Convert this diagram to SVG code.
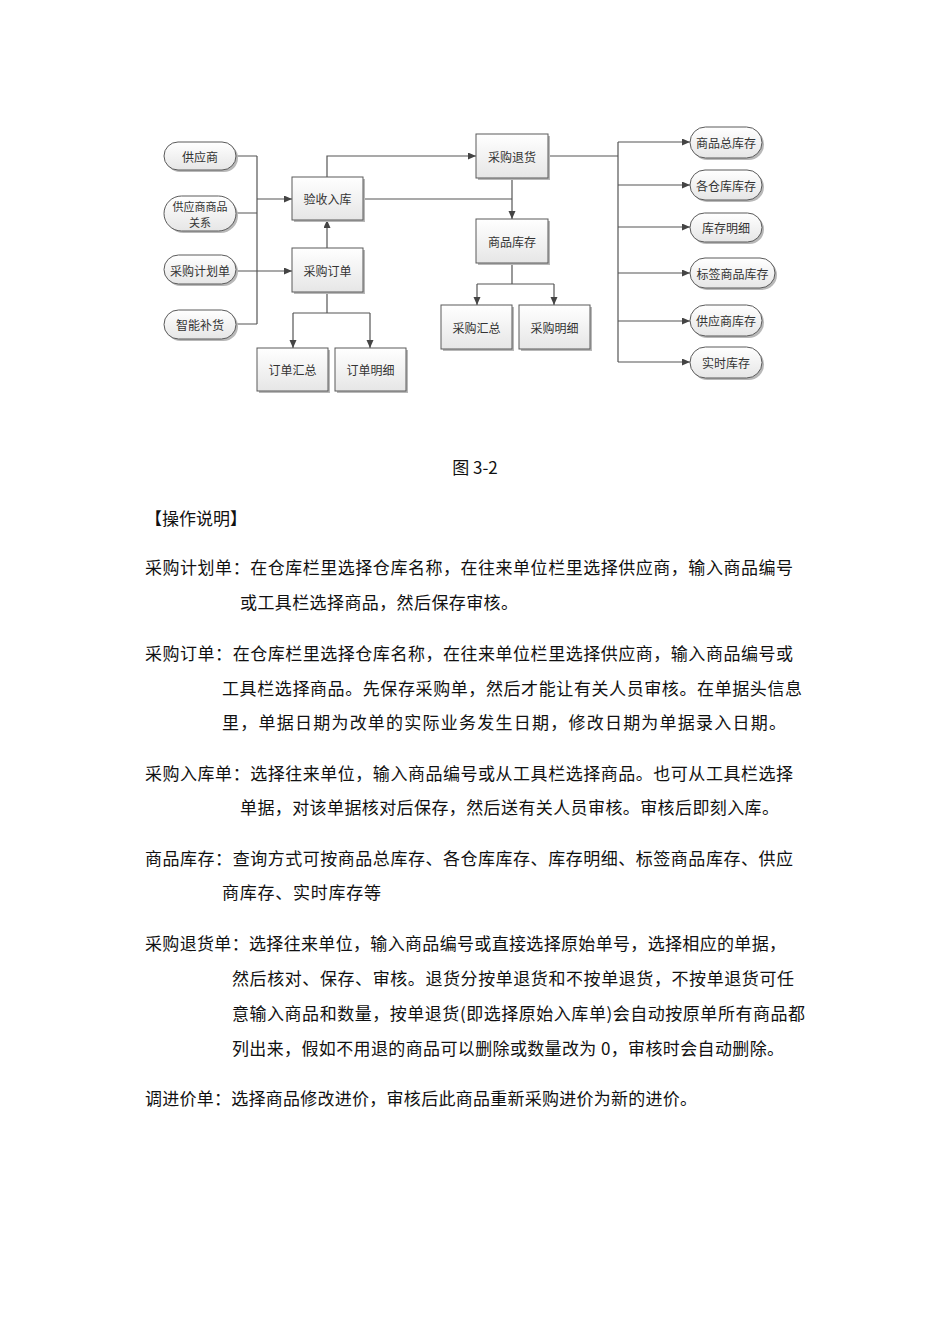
<svg xmlns="http://www.w3.org/2000/svg" width="950" height="1344" viewBox="0 0 950 1344">
<style>
.box{fill:url(#g);stroke:#5a5a5a;stroke-width:1}
.sh{fill:#b8b8b8}
.lbl{font-family:"Noto Sans CJK SC",sans-serif;font-size:12px;fill:#333;text-anchor:middle;dominant-baseline:central}
.sm{font-size:11px}
.c{fill:none;stroke:#555;stroke-width:1.2}
.a{marker-end:url(#ar)}
.t{font-family:"Noto Sans CJK SC",sans-serif;font-size:17px;fill:#111}
</style>
<defs>
<linearGradient id="g" x1="0" y1="0" x2="0" y2="1">
<stop offset="0" stop-color="#ffffff"/>
<stop offset="1" stop-color="#e6e6e6"/>
</linearGradient>
<marker id="ar" markerUnits="userSpaceOnUse" markerWidth="9" markerHeight="8" refX="8" refY="3.5" orient="auto">
<path d="M0,0 L8,3.5 L0,7 z" fill="#444"/>
</marker>
</defs>
<rect width="950" height="1344" fill="#fff"/>

<g id="connectors">
<path class="c" d="M236,156 H257 M236,213 H257 M236,324 H257 M257,156 V324"/>
<path class="c a" d="M257,199 H292"/>
<path class="c a" d="M236,271 H292"/>
<path class="c a" d="M327,248 V220"/>
<path class="c" d="M327,292 V313 M293,313 H370"/>
<path class="c a" d="M293,313 V348"/>
<path class="c a" d="M370,313 V348"/>
<path class="c a" d="M327,177 V156 H476"/>
<path class="c" d="M363,199 H512"/>
<path class="c a" d="M512,178 V219"/>
<path class="c" d="M512,263 V284 M477,284 H554"/>
<path class="c a" d="M477,284 V305"/>
<path class="c a" d="M554,284 V305"/>
<path class="c" d="M548,156 H618 M618,142 V362"/>
<path class="c a" d="M618,142 H690"/>
<path class="c a" d="M618,185 H690"/>
<path class="c a" d="M618,227 H690"/>
<path class="c a" d="M618,273 H690"/>
<path class="c a" d="M618,321 H690"/>
<path class="c a" d="M618,362 H690"/>
</g>

<g id="n-gys"><rect class="sh" x="166" y="144" width="72" height="28" rx="14"/><rect class="box" x="164" y="142" width="72" height="28" rx="14"/><text class="lbl" x="200" y="156">供应商</text></g>
<g id="n-gxsp"><rect class="sh" x="166" y="198" width="72" height="35" rx="17.5"/><rect class="box" x="164" y="196" width="72" height="35" rx="17.5"/><text class="lbl sm" x="200" y="205.5">供应商商品</text><text class="lbl sm" x="200" y="221.5">关系</text></g>
<g id="n-jhd"><rect class="sh" x="166" y="257" width="72" height="29" rx="14.5"/><rect class="box" x="164" y="255" width="72" height="29" rx="14.5"/><text class="lbl" x="200" y="270">采购计划单</text></g>
<g id="n-znbh"><rect class="sh" x="166" y="312" width="72" height="29" rx="14.5"/><rect class="box" x="164" y="310" width="72" height="29" rx="14.5"/><text class="lbl" x="200" y="324">智能补货</text></g>

<g id="n-ysrk"><rect class="sh" x="294" y="179" width="71" height="43"/><rect class="box" x="292" y="177" width="71" height="43"/><text class="lbl" x="327.5" y="198.5">验收入库</text></g>
<g id="n-cgdd"><rect class="sh" x="294" y="250" width="71" height="44"/><rect class="box" x="292" y="248" width="71" height="44"/><text class="lbl" x="327.5" y="270">采购订单</text></g>
<g id="n-ddhz"><rect class="sh" x="259" y="350" width="71" height="43"/><rect class="box" x="257" y="348" width="71" height="43"/><text class="lbl" x="292.5" y="369.5">订单汇总</text></g>
<g id="n-ddmx"><rect class="sh" x="337" y="350" width="71" height="43"/><rect class="box" x="335" y="348" width="71" height="43"/><text class="lbl" x="370.5" y="369.5">订单明细</text></g>
<g id="n-cgth"><rect class="sh" x="478" y="136" width="72" height="44"/><rect class="box" x="476" y="134" width="72" height="44"/><text class="lbl" x="512" y="156">采购退货</text></g>
<g id="n-spkc"><rect class="sh" x="478" y="221" width="72" height="44"/><rect class="box" x="476" y="219" width="72" height="44"/><text class="lbl" x="512" y="241">商品库存</text></g>
<g id="n-cghz"><rect class="sh" x="443" y="307" width="71" height="44"/><rect class="box" x="441" y="305" width="71" height="44"/><text class="lbl" x="476.5" y="327">采购汇总</text></g>
<g id="n-cgmx"><rect class="sh" x="521" y="307" width="71" height="44"/><rect class="box" x="519" y="305" width="71" height="44"/><text class="lbl" x="554.5" y="327">采购明细</text></g>

<g id="n-spzkc"><rect class="sh" x="692" y="129" width="72" height="31" rx="15.5"/><rect class="box" x="690" y="127" width="72" height="31" rx="15.5"/><text class="lbl" x="726" y="142.5">商品总库存</text></g>
<g id="n-gckc"><rect class="sh" x="692" y="172" width="72" height="30" rx="15"/><rect class="box" x="690" y="170" width="72" height="30" rx="15"/><text class="lbl" x="726" y="185">各仓库库存</text></g>
<g id="n-kcmx"><rect class="sh" x="692" y="215" width="72" height="29" rx="14.5"/><rect class="box" x="690" y="213" width="72" height="29" rx="14.5"/><text class="lbl" x="726" y="227.5">库存明细</text></g>
<g id="n-bqkc"><rect class="sh" x="692" y="260" width="85" height="30" rx="15"/><rect class="box" x="690" y="258" width="85" height="30" rx="15"/><text class="lbl" x="732.5" y="273">标签商品库存</text></g>
<g id="n-gyskc"><rect class="sh" x="692" y="307" width="72" height="31" rx="15.5"/><rect class="box" x="690" y="305" width="72" height="31" rx="15.5"/><text class="lbl" x="726" y="320.5">供应商库存</text></g>
<g id="n-sskc"><rect class="sh" x="692" y="349" width="72" height="31" rx="15.5"/><rect class="box" x="690" y="347" width="72" height="31" rx="15.5"/><text class="lbl" x="726" y="362.5">实时库存</text></g>

<g id="body">
<text class="t" x="475" y="474" text-anchor="middle">图 3-2</text>
<text class="t" x="145" y="525">【操作说明】</text>
<text class="t" x="145" y="574" textLength="648" lengthAdjust="spacing">采购计划单：在仓库栏里选择仓库名称，在往来单位栏里选择供应商，输入商品编号</text>
<text class="t" x="240" y="609" textLength="278" lengthAdjust="spacing">或工具栏选择商品，然后保存审核。</text>
<text class="t" x="145" y="660" textLength="648" lengthAdjust="spacing">采购订单：在仓库栏里选择仓库名称，在往来单位栏里选择供应商，输入商品编号或</text>
<text class="t" x="222" y="695" textLength="580" lengthAdjust="spacing">工具栏选择商品。先保存采购单，然后才能让有关人员审核。在单据头信息</text>
<text class="t" x="222" y="729" textLength="564" lengthAdjust="spacing">里，单据日期为改单的实际业务发生日期，修改日期为单据录入日期。</text>
<text class="t" x="145" y="780" textLength="648" lengthAdjust="spacing">采购入库单：选择往来单位，输入商品编号或从工具栏选择商品。也可从工具栏选择</text>
<text class="t" x="240" y="814" textLength="539" lengthAdjust="spacing">单据，对该单据核对后保存，然后送有关人员审核。审核后即刻入库。</text>
<text class="t" x="145" y="865" textLength="648" lengthAdjust="spacing">商品库存：查询方式可按商品总库存、各仓库库存、库存明细、标签商品库存、供应</text>
<text class="t" x="222" y="899" textLength="159" lengthAdjust="spacing">商库存、实时库存等</text>
<text class="t" x="145" y="950" textLength="641" lengthAdjust="spacing">采购退货单：选择往来单位，输入商品编号或直接选择原始单号，选择相应的单据，</text>
<text class="t" x="232" y="985" textLength="562" lengthAdjust="spacing">然后核对、保存、审核。退货分按单退货和不按单退货，不按单退货可任</text>
<text class="t" x="232" y="1020" textLength="573" lengthAdjust="spacing">意输入商品和数量，按单退货(即选择原始入库单)会自动按原单所有商品都</text>
<text class="t" x="232" y="1055" textLength="552" lengthAdjust="spacing">列出来，假如不用退的商品可以删除或数量改为 0，审核时会自动删除。</text>
<text class="t" x="145" y="1105" textLength="552" lengthAdjust="spacing">调进价单：选择商品修改进价，审核后此商品重新采购进价为新的进价。</text>
</g>
</svg>
